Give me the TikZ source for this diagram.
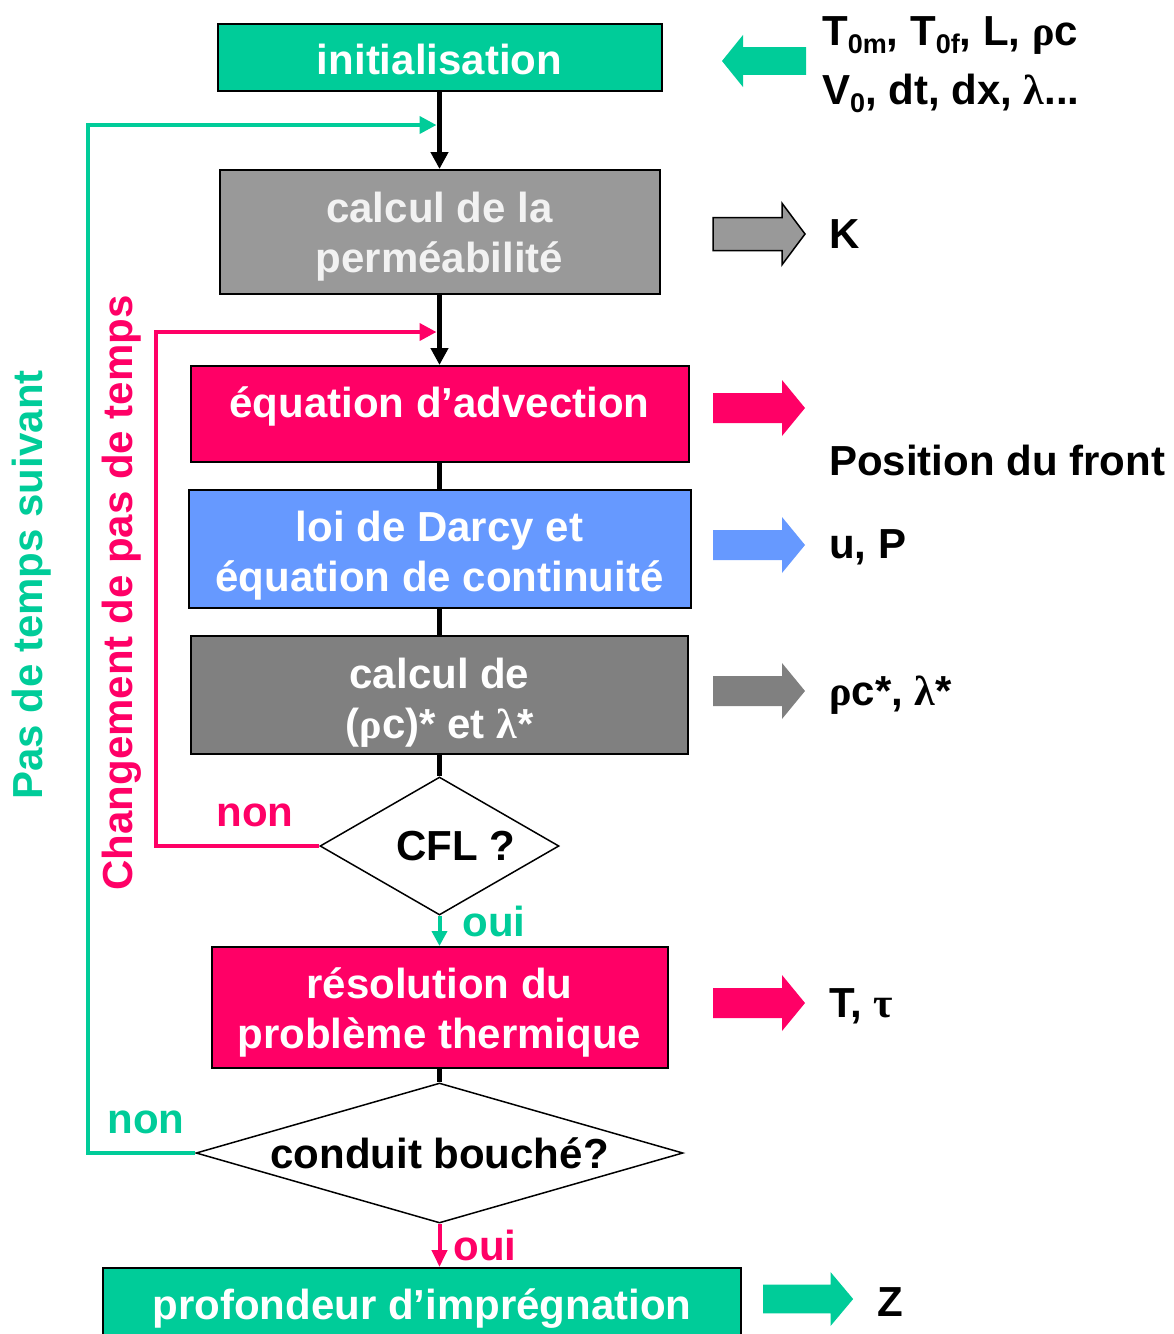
\documentclass[tikz,border=0pt]{standalone}
\usepackage{fontspec}
\setmainfont{Liberation Sans}
\newfontfamily\grk{Liberation Serif}
\usetikzlibrary{shapes.geometric,arrows.meta}
\definecolor{cgreen}{HTML}{00CC99}
\definecolor{cpink}{HTML}{FF0066}
\definecolor{cblue}{HTML}{6699FF}
\definecolor{cgrayA}{HTML}{999999}
\definecolor{cgrayB}{HTML}{808080}
\definecolor{ctxtA}{HTML}{F2F2F2}
\newcommand\sbs[1]{\raisebox{-8pt}{\fontsize{27}{27}\selectfont #1}}
\newcommand\bigf{\fontsize{42}{50}\selectfont}
\newcommand\dn[2]{\raisebox{-#1}[\height][\depth]{#2}}
\begin{document}
\begin{tikzpicture}[x=1pt,y=-1pt,
  box/.style={draw=black,line width=2pt,align=center,font=\bigf\bfseries,text=white,inner sep=0pt},
  dmd/.style={diamond,draw=black,line width=1.5pt,fill=white,inner sep=0pt,font=\bigf\bfseries,text=black},
  flow/.style={line width=4.5pt,black},
  flowarr/.style={flow,-{Triangle[width=17pt,length=17pt]}},
  loopg/.style={line width=4pt,cgreen,-{Triangle[width=17pt,length=17pt]},shorten >=3pt},
  loopp/.style={line width=4pt,cpink,-{Triangle[width=17pt,length=17pt]},shorten >=3pt},
  lbl/.style={font=\bigf\bfseries,inner sep=0pt},
  rtxt/.style={font=\bigf\bfseries,text=black,anchor=west,inner sep=0pt},
  blk/.pic={\path[pic actions] (0,-15) -- (69,-15) -- (69,-28) -- (92,0) -- (69,28) -- (69,15) -- (0,15) -- cycle;}
]
\useasboundingbox (0,0) rectangle (1174,1334);

% main boxes
\node[box,fill=cgreen,minimum width=444pt,minimum height=67pt] (b1) at (439.5,57.5) {\dn{2pt}{initialisation}};
\node[box,fill=cgrayA,text=ctxtA,minimum width=440pt,minimum height=124pt] (b2) at (439.5,232) {\dn{5pt}{calcul de la}\\\dn{5pt}{perméabilité}};
\node[box,fill=cpink,minimum width=498pt,minimum height=96pt] (b3) at (439.5,414) {\dn{-8pt}{équation d’advection}};
\node[box,fill=cblue,minimum width=502pt,minimum height=118pt] (b4) at (439.5,549) {\dn{7pt}{loi de Darcy et}\\\dn{7pt}{équation de continuité}};
\node[box,fill=cgrayB,minimum width=497pt,minimum height=118pt] (b5) at (439.5,695) {\dn{8pt}{calcul de}\\\dn{8pt}{({\grk ρ}c)* et {\grk λ}*}};
\node[dmd,aspect=1.732,minimum width=239pt,minimum height=138pt] (cfl) at (439.5,846) {\hspace*{32pt}CFL ?};
\node[box,fill=cpink,minimum width=456pt,minimum height=121pt] (b6) at (439.5,1007.5) {\dn{5pt}{résolution du}\\\dn{5pt}{problème thermique}};
\node[dmd,aspect=3.479,minimum width=487pt,minimum height=140pt] (d2) at (439.5,1153) {conduit bouché?};
\node[box,fill=cgreen,minimum width=638pt,minimum height=76pt] (b7) at (422,1306) {\dn{3pt}{profondeur d’imprégnation}};

% join points
\coordinate (gjoin) at (439.5,125);
\coordinate (pjoin) at (439.5,332);

% main flow
\draw[flowarr] (b1.south) -- (b2.north);
\draw[flowarr] (b2.south) -- (b3.north);
\draw[flow] (b3.south) -- (b4.north);
\draw[flow] (b4.south) -- (b5.north);
\draw[flow] (b5.south) -- (cfl.north);
\draw[line width=4pt,cgreen,-{Triangle[width=15pt,length=15pt]}] (cfl.south) -- (b6.north);
\draw[flow] (b6.south) -- (d2.north);
\draw[line width=4pt,cpink,-{Triangle[width=15pt,length=17pt]}] (d2.south) -- (d2.south |- b7.north);

% loops
\draw[loopp] (cfl.west) -- ++(-163,0) |- (pjoin);
\draw[loopg] (d2.west) -- ++(-107,0) |- (gjoin);

% labels
\node[lbl,text=cpink] (n1) at (255,815) {non};
\node[lbl,text=cgreen] (o1) at (494,921) {oui};
\node[lbl,text=cgreen] (n2) at (146,1122) {non};
\node[lbl,text=cpink] (o2) at (485,1245) {oui};
\node[lbl,text=cgreen,rotate=90] (vt1) at (32,585) {Pas de temps suivant};
\node[lbl,text=cpink,rotate=90] (vt2) at (122,593) {Changement de pas de temps};

% right arrows
\pic[fill=cgreen,xscale=-0.913,yscale=0.93] at (806,61) {blk};
\pic[fill=cgrayA,draw=black,line width=1.5pt,yscale=1.1] at (713,234) {blk};
\pic[fill=cpink] at (713,408) {blk};
\pic[fill=cblue] at (713,545) {blk};
\pic[fill=cgrayB] at (713,691) {blk};
\pic[fill=cpink] at (713,1003) {blk};
\pic[fill=cgreen,xscale=0.98,yscale=0.96] at (763,1299) {blk};

% right texts
\node[rtxt,anchor=base west] (t1) at (822,45) {T\sbs{0m}, T\sbs{0f}, L, {\grk ρ}c};
\node[rtxt,anchor=base west] (t2) at (822,104) {V\sbs{0}, dt, dx, {\grk λ}...};
\node[rtxt] (tk) at (829,234) {K};
\node[rtxt] (tpos) at (829,460) {Position du front};
\node[rtxt] (tup) at (829,547) {u, P};
\node[rtxt] (trho) at (829,695) {{\grk ρ}c*, {\grk λ}*};
\node[rtxt] (ttau) at (829,1006) {T, {\grk τ}};
\node[rtxt] (tz) at (877,1302) {Z};
\end{tikzpicture}
\end{document}
